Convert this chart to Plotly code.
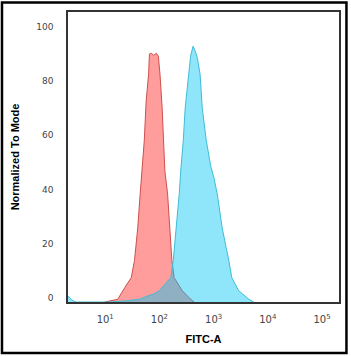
import numpy as np
import plotly.graph_objects as go

# FITC-A intensity, as log10 decades, and normalized-to-mode counts
red_log10 = [0.99, 1.08, 1.23, 1.36, 1.48, 1.54, 1.60, 1.645, 1.69, 1.72, 1.755, 1.80,
             1.815, 1.85, 1.897, 1.94, 1.98, 2.01, 2.05, 2.07, 2.10, 2.15, 2.19, 2.23,
             2.27, 2.42, 2.55, 2.64]
red_mode = [0, 0.3, 1.0, 5.3, 9, 15.3, 27.4, 39.9, 52, 59.4, 74.1, 84,
            91.4, 91.7, 90.9, 91.7, 90.6, 84, 71.5, 59.4, 48.3, 39.9, 27.4, 15.3,
            9, 4.2, 1.5, 0]

blue_log10 = [0.313, 0.35, 0.39, 0.46, 1.08, 1.36, 1.63, 1.755, 1.91, 2.0, 2.09, 2.21,
              2.255, 2.315, 2.365, 2.40, 2.44, 2.475, 2.535, 2.575, 2.62, 2.66, 2.70,
              2.75, 2.79, 2.865, 2.945, 3.005, 3.066, 3.157, 3.28, 3.335, 3.46, 3.65, 3.74]
blue_mode = [2.2, 1.5, 0.6, 0, 0, 0.4, 1.0, 2.0, 3.1, 4.2, 6.1, 9,
             15.3, 27.4, 39.9, 50.2, 59.4, 71.5, 84, 90.6, 94.3, 92.5, 89.9,
             84, 71.5, 59.4, 50.2, 45.8, 39.9, 27.4, 15.3, 9, 4.2, 1.0, 0]

x_ticks = [1, 2, 3, 4, 5]
y_ticks = [0, 20, 40, 60, 80, 100]

fig = go.Figure()
fig.add_trace(go.Scatter(
    x=10 ** np.array(red_log10), y=red_mode, mode='lines', fill='tozeroy',
    line=dict(color='#cf4f4c', width=1), fillcolor='rgba(255,60,60,0.5)',
    showlegend=False))
fig.add_trace(go.Scatter(
    x=10 ** np.array(blue_log10), y=blue_mode, mode='lines', fill='tozeroy',
    line=dict(color='#3ebdd6', width=1), fillcolor='rgba(0,199,244,0.44)',
    showlegend=False))

title_font = dict(family='Liberation Sans', size=11, color='#000')

fig.update_layout(
    width=351, height=356,
    margin=dict(l=68, r=10, t=11, b=54),
    plot_bgcolor='white', paper_bgcolor='white',
    xaxis=dict(type='log', range=[0.313, 5.313],
               tickvals=[10 ** t for t in x_ticks],
               ticktext=[f'10<sup>{t}</sup>' for t in x_ticks],
               tickfont=dict(family='DejaVu Sans', size=10, color='#444'),
               showgrid=False, zeroline=False,
               showline=True, linecolor='#333', linewidth=1.5, mirror=True,
               ticks='', ticklabelstandoff=7,
               title=dict(text='<b>FITC-A</b>', font=title_font, standoff=12)),
    yaxis=dict(range=[0, 106.9], tickvals=y_ticks,
               tickfont=dict(family='DejaVu Sans', size=9, color='#444'),
               showgrid=False, zeroline=False, ticks='',
               showline=True, linecolor='#333', linewidth=1.5, mirror=True,
               ticklabelshift=-4, ticklabelstandoff=11,
               title=dict(text='<b>Normalized To Mode</b>', font=title_font, standoff=14)),
)

# outer black frame around the whole picture
fig.add_shape(type='rect', xref='paper', yref='paper',
              x0=-0.2436, x1=1.0275, y0=-0.1756, y1=1.0327,
              line=dict(color='black', width=2.5))

fig.write_html("out.html", config={'displayModeBar': False},
               post_script="document.body.style.margin='0px';")
